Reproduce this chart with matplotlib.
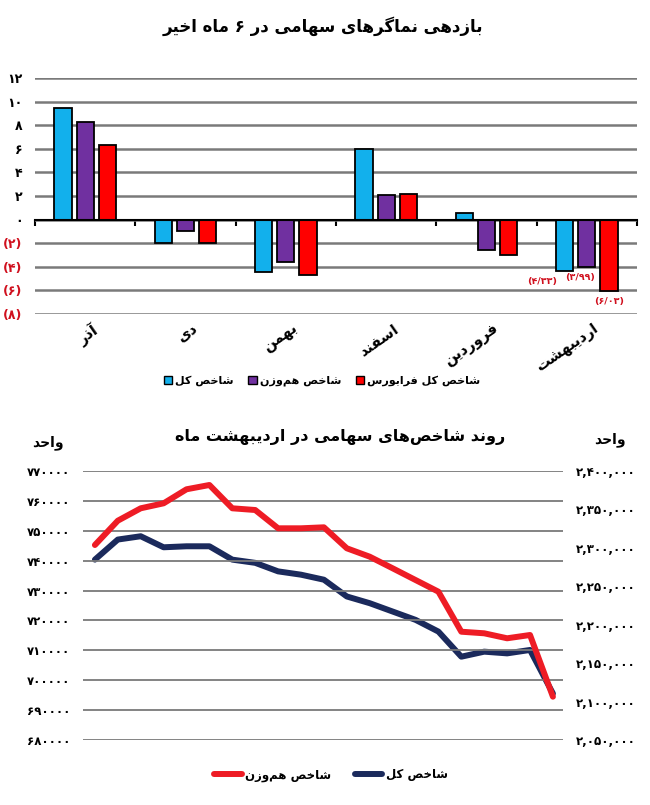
import matplotlib
matplotlib.use("Agg")
import matplotlib.pyplot as plt
from matplotlib.patches import Patch
from matplotlib.lines import Line2D
import numpy as np

plt.rcParams['font.family'] = ['DejaVu Sans']

# ---------------- data ----------------
months = ['آذر', 'دی', 'بهمن', 'اسفند', 'فروردین', 'اردیبهشت']
total_index = [9.45, -1.96, -4.43, 6.0, 0.6, -4.33]
equal_weight = [8.26, -0.94, -3.6, 2.1, -2.6, -3.99]
farabourse = [6.3, -2.0, -4.66, 2.15, -2.98, -6.03]
bar_series = ['شاخص کل', 'شاخص هم\u200cوزن', 'شاخص کل فرابورس']
bar_colors = ['#12b0ec', '#7030a0', '#ff0000']
bar_ticks = list(range(-8, 13, 2))

days = list(range(21))
equal_line = [745240, 753370, 757520, 759190, 763880, 765320, 757520, 756950,
              750830, 750830, 751160, 744140, 741330, 737450, 733530, 729620,
              716230, 715700, 714030, 715130, 694490]
total_line = [2284680, 2310800, 2315110, 2300750, 2302050, 2302050, 2284680,
              2280500, 2269400, 2265090, 2258560, 2236750, 2228000, 2217160,
              2206330, 2191050, 2158400, 2164930, 2162710, 2167150, 2110470]
left_ticks = list(range(680000, 770001, 10000))
right_ticks = list(range(2050000, 2400001, 50000))

title1 = 'بازدهی نماگرهای سهامی در ۶ ماه اخیر'
title2 = 'روند شاخص\u200cهای سهامی در اردیبهشت ماه'
unit = 'واحد'
line_series = ['شاخص هم\u200cوزن', 'شاخص کل']

# ---------------- Persian shaping ----------------
FORMS = {
    '\u0627': ('\uFE8D', '\uFE8E', None, None),
    '\u0622': ('\uFE81', '\uFE82', None, None),
    '\u0628': ('\uFE8F', '\uFE90', '\uFE91', '\uFE92'),
    '\u062A': ('\uFE95', '\uFE96', '\uFE97', '\uFE98'),
    '\u062D': ('\uFEA1', '\uFEA2', '\uFEA3', '\uFEA4'),
    '\u062E': ('\uFEA5', '\uFEA6', '\uFEA7', '\uFEA8'),
    '\u062F': ('\uFEA9', '\uFEAA', None, None),
    '\u0630': ('\uFEAB', '\uFEAC', None, None),
    '\u0631': ('\uFEAD', '\uFEAE', None, None),
    '\u0632': ('\uFEAF', '\uFEB0', None, None),
    '\u0633': ('\uFEB1', '\uFEB2', '\uFEB3', '\uFEB4'),
    '\u0634': ('\uFEB5', '\uFEB6', '\uFEB7', '\uFEB8'),
    '\u0635': ('\uFEB9', '\uFEBA', '\uFEBB', '\uFEBC'),
    '\u0641': ('\uFED1', '\uFED2', '\uFED3', '\uFED4'),
    '\u0644': ('\uFEDD', '\uFEDE', '\uFEDF', '\uFEE0'),
    '\u0645': ('\uFEE1', '\uFEE2', '\uFEE3', '\uFEE4'),
    '\u0646': ('\uFEE5', '\uFEE6', '\uFEE7', '\uFEE8'),
    '\u0647': ('\uFEE9', '\uFEEA', '\uFEEB', '\uFEEC'),
    '\u0648': ('\uFEED', '\uFEEE', None, None),
    '\u06A9': ('\uFB8E', '\uFB8F', '\uFB90', '\uFB91'),
    '\u06AF': ('\uFB92', '\uFB93', '\uFB94', '\uFB95'),
    '\u06CC': ('\uFBFC', '\uFBFD', '\uFBFE', '\uFBFF'),
}


def fa(s):
    out = []
    n = len(s)
    for i, c in enumerate(s):
        if c not in FORMS:
            if c == '\u200c':
                continue
            out.append(c)
            continue
        f = FORMS[c]
        prev = s[i - 1] if i > 0 else None
        nxt = s[i + 1] if i + 1 < n else None
        jp = prev is not None and prev in FORMS and FORMS[prev][2] is not None
        jn = f[2] is not None and nxt is not None and nxt in FORMS
        if jp and jn:
            g = f[3]
        elif jp:
            g = f[1]
        elif jn:
            g = f[2]
        else:
            g = f[0]
        out.append(g)
    return ''.join(reversed(out))


FA_DIG = str.maketrans('0123456789.', '۰۱۲۳۴۵۶۷۸۹/')

W, H = 650, 805
fig = plt.figure(figsize=(W / 100, H / 100), dpi=100)
fig.patch.set_facecolor('white')


def box(l, t, r, b):
    return [l / W, 1 - b / H, (r - l) / W, (b - t) / H]


RED_TXT = '#d0101e'

# ---------------- top: bar chart ----------------
fig.text(323 / W, 1 - 26 / H, fa(title1), ha='center', va='center',
         fontsize=12, fontweight='bold')

ax = fig.add_axes(box(35, 78, 637, 314))
x = np.arange(len(months))
bw = 0.172
off = 0.222
series_vals = [total_index, equal_weight, farabourse]
for k, (vals, col) in enumerate(zip(series_vals, bar_colors)):
    ax.bar(x + (k - 1) * off, vals, width=bw, color=col,
           edgecolor='black', linewidth=1.3, zorder=3)

ax.set_xlim(-0.5, len(months) - 0.5)
ax.set_ylim(-8, 12)
ax.set_yticks(bar_ticks)
labels = []
for v in bar_ticks:
    if v < 0:
        labels.append('(' + str(-v).translate(FA_DIG) + ')')
    else:
        labels.append(str(v).translate(FA_DIG))
ax.set_yticklabels(labels, fontsize=9, fontweight='bold')
for t, v in zip(ax.get_yticklabels(), bar_ticks):
    if v < 0:
        t.set_color(RED_TXT)
ax.tick_params(axis='y', length=0, pad=9)
ax.yaxis.grid(True, color='#7a7a7a', linewidth=1.8, zorder=0)
ax.set_axisbelow(True)
for s in ['left', 'right', 'top']:
    ax.spines[s].set_visible(False)
ax.spines['bottom'].set_position(('data', 0))
ax.spines['bottom'].set_color('black')
ax.spines['bottom'].set_linewidth(1.5)
ax.spines['bottom'].set_zorder(4)
ax.set_xticks(np.arange(len(months) + 1) - 0.5)
ax.set_xticklabels([])
ax.tick_params(axis='x', direction='out', length=4, width=1.5, color='black')

for i, m in enumerate(months):
    ax.text(i + 0.06, -8.6, fa(m), rotation=35, rotation_mode='anchor',
            ha='right', va='top', fontsize=10.5, fontweight='bold')

# value labels for last month
last = len(months) - 1
dxs = [-22, -7, 0]
for k, vals in enumerate(series_vals):
    v = vals[last]
    ax.annotate('(' + f'{abs(v):.2f}'.translate(FA_DIG) + ')',
                xy=(last + (k - 1) * off, v), xytext=(dxs[k], -11),
                textcoords='offset pixels', ha='center', va='center',
                fontsize=6.8, fontweight='bold', color=RED_TXT, zorder=6)

handles = [Patch(facecolor=c, edgecolor='black', linewidth=1.0) for c in bar_colors]
fig.legend(handles, [fa(s) for s in bar_series], loc='center',
           bbox_to_anchor=(322 / W, 1 - 381 / H), ncol=3, frameon=False,
           handlelength=0.75, handleheight=0.75, handletextpad=0.3,
           columnspacing=1.3, prop={'size': 8, 'weight': 'bold'})

# ---------------- bottom: line chart ----------------
fig.text(340 / W, 1 - 437 / H, fa(title2), ha='center', va='center',
         fontsize=11.5, fontweight='bold')
fig.text(48 / W, 1 - 443 / H, fa(unit), ha='center', va='center',
         fontsize=10, fontweight='bold')
fig.text(610 / W, 1 - 440 / H, fa(unit), ha='center', va='center',
         fontsize=10, fontweight='bold')

axl = fig.add_axes(box(83, 471, 563, 740))
axr = axl.twinx()
axl.set_zorder(2)
axl.patch.set_visible(False)

axl.plot(days, equal_line, color='#ee1c25', linewidth=4.3,
         solid_joinstyle='round', solid_capstyle='round', zorder=5, clip_on=False)
axr.plot(days, total_line, color='#1b2a5c', linewidth=4.3,
         solid_joinstyle='round', solid_capstyle='round', zorder=4, clip_on=False)

axl.set_xlim(-0.52, 20.44)
axl.set_ylim(680000, 770000)
axr.set_ylim(2050000, 2400000)
axl.set_yticks(left_ticks)
axl.set_yticklabels([str(v).translate(FA_DIG) for v in left_ticks],
                    fontsize=8.5, fontweight='bold')
axr.set_yticks(right_ticks)
axr.set_yticklabels([f'{v:,}'.translate(FA_DIG) for v in right_ticks],
                    fontsize=8.5, fontweight='bold')
axl.tick_params(axis='y', length=0, pad=9)
axr.tick_params(axis='y', length=0, pad=9)
axl.set_xticks([])
axl.yaxis.grid(True, color='#7a7a7a', linewidth=1.3)
for a in (axl, axr):
    for s in a.spines.values():
        s.set_visible(False)

lh = [Line2D([], [], color='#ee1c25', linewidth=4.3, solid_capstyle='round'),
      Line2D([], [], color='#1b2a5c', linewidth=4.3, solid_capstyle='round')]
fig.legend(lh, [fa(s) for s in line_series], loc='center',
           bbox_to_anchor=(331 / W, 1 - 775 / H), ncol=2, frameon=False,
           handlelength=2.3, handletextpad=0.3, columnspacing=2.0,
           prop={'size': 8.5, 'weight': 'bold'})

fig.savefig('out.png', dpi=100, facecolor='white')
